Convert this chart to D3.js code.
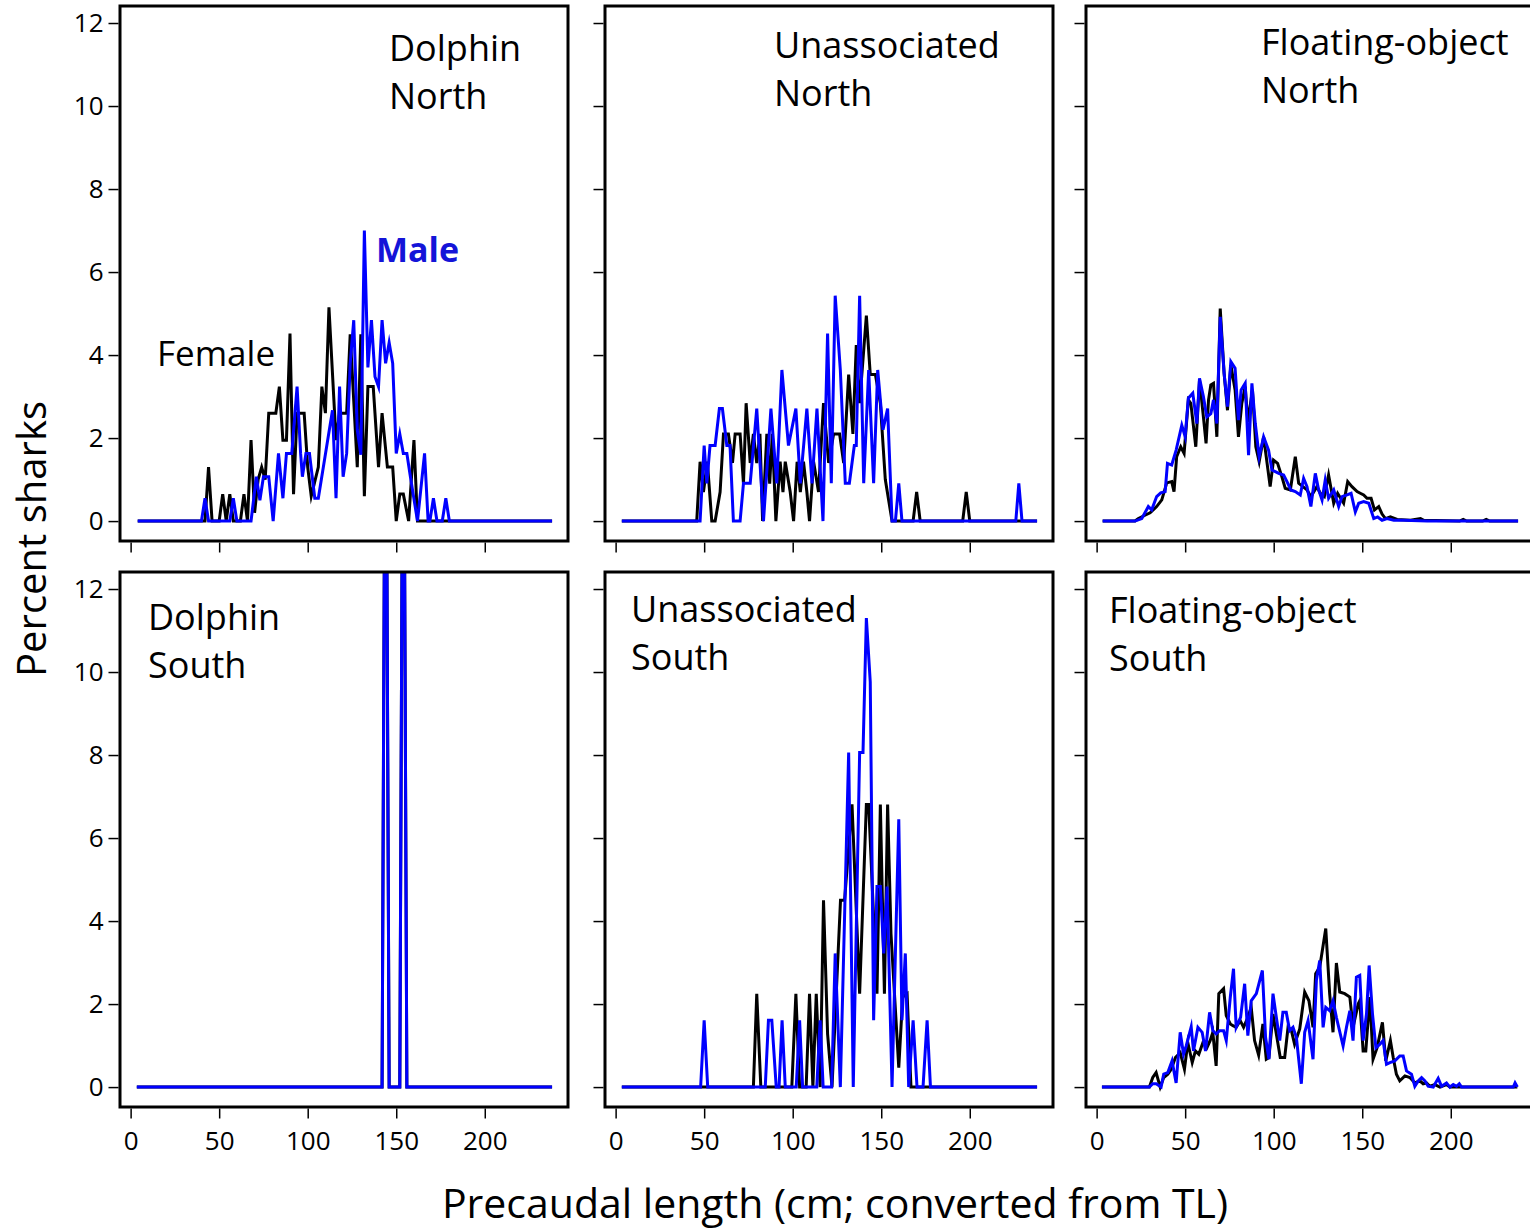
<!DOCTYPE html>
<html><head><meta charset="utf-8">
<script src="https://cdn.jsdelivr.net/npm/d3@7/dist/d3.min.js"></script>
<style>
body{margin:0;background:#fff}
svg{display:block}
text{font-family:"Open Sans","Noto Sans",sans-serif;fill:#000}
</style>
</head><body>
<svg id="chart" width="1530" height="1230"></svg>
<script>
// ---------------- data ----------------
const xTickValues = [0, 50, 100, 150, 200];
const yTickValues = [0, 2, 4, 6, 8, 10, 12];
const seriesNames = ["Female", "Male"];
const panelTitles = [
  ["Dolphin", "North"], ["Unassociated", "North"], ["Floating-object", "North"],
  ["Dolphin", "South"], ["Unassociated", "South"], ["Floating-object", "South"]
];
const xTitle = "Precaudal length (cm; converted from TL)";
const yTitle = "Percent sharks";

// each series: [precaudal length (cm), percent of sharks]
const dolphinNorthFemale = [[4,0],[42,0],[44,1.3],[46,0],[50,0],[52,0.65],[54,0],[56,0.65],[58,0],[62,0],[64,0.65],[66,0],[68,1.95],[70,0.2],[72,1.0],[74,1.3],[76,1.0],[78,2.6],[82,2.6],[84,3.24],[86,1.95],[88,1.95],[90,4.52],[92,0.65],[94,2.6],[98,2.6],[100,1.3],[102,0.6],[106,1.3],[108,3.24],[110,2.6],[112,5.15],[116,1.95],[118,2.6],[122,2.6],[124,4.5],[128,1.3],[130,4.5],[132,0.6],[134,3.24],[137,3.24],[140,1.3],[142,2.6],[145,1.3],[148,1.3],[150,0],[152,0.65],[154,0.65],[157,0],[160,1.95],[162,0],[238,0]];
const dolphinNorthMale = [[4,0],[40,0],[42,0.55],[44,0],[56,0],[58,0.55],[60,0],[68,0],[71,1.07],[73,0.5],[75,1.07],[78,1.07],[80.5,0],[83.5,1.63],[86,0.55],[88,1.63],[91,1.63],[94,3.24],[96,1.63],[97,1.07],[99,1.63],[101,1.63],[104,0.55],[106,0.55],[114,2.67],[116,0.55],[118,3.24],[120,1.07],[122,1.63],[124,3.8],[126,4.84],[128,2.2],[130,1.6],[132,7.0],[134,3.7],[136,4.84],[138,3.48],[140,3.24],[142,4.84],[144,3.8],[146,4.3],[148,3.8],[150,1.63],[152,2.1],[154,1.63],[156,1.63],[158,1.07],[162,0],[166,1.63],[168,0],[169,0],[171,0.55],[173,0],[176,0],[178,0.55],[180,0],[238,0]];

const unassocNorthFemale = [[3.5,0],[45.8,0],[47.7,1.43],[49.6,0.7],[51.8,1.43],[54.3,0],[56.2,0],[59,0.7],[60.9,2.1],[63.7,2.1],[66,1.4],[67.5,2.1],[70.3,2.1],[72.2,0.9],[73.7,2.84],[76,1.4],[77.8,2.1],[79.7,1.4],[81.5,2.1],[83,0],[85.4,2.1],[87,0.9],[88.5,2.1],[90.5,0],[92.9,1.43],[94.5,0.7],[95.8,1.43],[98.6,0.7],[100.5,0],[102.5,1.43],[104.3,0.7],[106.1,1.43],[108,0.7],[109.5,0],[111.8,1.43],[114.6,0.7],[117.4,2.84],[120.3,1.4],[123.1,2.1],[126.5,2.1],[128.8,1.4],[131.6,3.53],[134,2.1],[135.9,4.24],[137.8,2.84],[141.6,4.95],[143.8,3.53],[146.7,3.53],[149.5,2.84],[152.3,1.0],[156.1,0],[168,0],[170,0.7],[172,0],[196,0],[198,0.7],[200,0],[238,0]];
const unassocNorthMale = [[3.5,0],[46,0],[47.7,0],[50,1.82],[51.5,0.91],[53.3,1.82],[56.2,1.82],[58.6,2.71],[60.3,2.71],[62.8,1.82],[64.6,1.82],[66.5,0],[70.3,0],[72.2,0.91],[76,0.91],[79.7,2.71],[83.5,0],[87.7,2.71],[91,0.91],[93.9,3.64],[97.6,1.82],[101.8,2.71],[104.3,0.91],[108,2.71],[110.9,0.91],[113.7,2.71],[117.1,0],[119.7,4.52],[121.8,0.91],[124,5.43],[126.9,3.64],[129.7,0.91],[132,0.91],[134.8,1.82],[135.9,1.82],[137.8,5.43],[140.1,0.91],[142.9,3.64],[145.7,0.91],[148,3.64],[151,2.2],[153.6,2.71],[156.1,0],[158,0],[159.9,0.91],[161.7,0],[226,0],[227.7,0.91],[229.5,0],[238,0]];

const floatNorthFemale = [[3.4,0],[21.7,0],[23.6,0.06],[27.3,0.14],[30.2,0.2],[33.9,0.35],[36.8,0.51],[39.6,0.92],[42.4,0.95],[43.7,0.71],[45.2,1.55],[47.5,1.79],[49.4,1.63],[51.8,2.92],[53.2,2.84],[56,1.79],[58.1,3.4],[60.3,2.51],[61.8,1.87],[63.2,2.92],[64.5,3.28],[66,3.32],[67.9,2.03],[69.8,5.12],[72,3.56],[73.9,2.67],[75.8,3.76],[78.2,3.16],[80.1,2.03],[82,2.84],[83.9,3.24],[85.4,2.39],[88,3.16],[89.9,1.79],[91.8,1.43],[94.3,2.03],[98,0.83],[99.9,1.47],[102.2,1.39],[104.6,1.07],[106.5,0.79],[109.4,0.75],[112.2,1.55],[114.1,0.91],[116.5,0.83],[118.8,0.75],[121,0.59],[124.4,0.83],[126.3,0.67],[128.6,0.59],[131,1.11],[133.9,0.43],[136.1,0.67],[139.5,0.43],[141.8,0.95],[144.2,0.83],[147.1,0.71],[148.9,0.67],[150.8,0.63],[152.7,0.55],[155,0.55],[156.9,0.27],[159.3,0.35],[161.2,0.17],[163.1,0.06],[165.9,0.1],[169.7,0.04],[177.2,0.02],[182.9,0.06],[184.8,0.02],[205,0],[207,0.04],[209,0],[218,0],[220,0.04],[222,0],[238,0]];
const floatNorthMale = [[3.4,0],[21.7,0],[25.5,0.06],[29.2,0.35],[31.1,0.27],[33.9,0.59],[36.2,0.68],[38.7,0.71],[40,1.39],[42.4,1.35],[44.9,1.71],[48.1,2.31],[50,2.03],[51.8,2.96],[54.3,3.08],[56.6,2.35],[58.1,3.44],[60.3,3.0],[62.2,2.51],[64.5,2.59],[66,2.92],[67.9,2.35],[69.8,4.92],[72,3.56],[73.9,2.76],[75.8,3.84],[78.2,3.68],[80.1,2.43],[81.6,3.16],[83.9,3.32],[85.8,1.59],[87.7,3.32],[89.6,2.35],[91.8,1.55],[94.3,2.03],[97.1,1.71],[99,1.23],[100.9,1.19],[102.8,1.15],[105.6,1.11],[107.5,0.95],[109.7,0.75],[112.2,0.71],[115,0.63],[116.9,1.03],[118.8,0.83],[121,0.35],[123.5,1.15],[125.4,0.75],[127.3,0.51],[129.1,0.99],[131,0.55],[133.9,0.75],[136.7,0.35],[138.6,0.59],[141.4,0.63],[143.7,0.67],[146.1,0.22],[148,0.43],[150.8,0.47],[153.7,0.43],[156.5,0.06],[158.7,0.1],[161.2,0.02],[164,0.06],[167.8,0.02],[173.5,0.02],[186.7,0],[238,0]];

const dolphinSouthFemale = [[3.5,0],[142,0],[144,20],[146,0],[152,0],[154,20],[156,0],[238,0]];
const dolphinSouthMale = [[3.5,0],[142,0],[144,20],[146,0],[152,0],[154,20],[156,0],[238,0]];

const unassocSouthFemale = [[3.5,0],[77.8,0],[79.7,2.25],[82,0],[99.5,0],[101.8,2.25],[103.9,0],[107.6,0],[109.5,2.25],[111.4,0],[113.3,2.25],[115.5,0],[117.4,4.5],[119.7,1.28],[122.2,0],[127,4.5],[129.3,4.5],[133.5,6.81],[137.8,2.25],[141.6,6.81],[142.9,6.81],[147.6,2.25],[149.5,6.81],[151.8,2.25],[153.6,6.81],[155.5,3.7],[159.9,0.47],[162.1,2.17],[164.6,2.25],[166.8,0],[238,0]];
const unassocSouthMale = [[3.5,0],[48,0],[50,1.61],[52,0],[84.5,0],[86.3,1.61],[88.2,1.61],[90.7,0],[92.3,0],[94,1.61],[95.8,0],[102,0],[103.9,1.61],[105.6,0],[113.6,0],[115.5,1.61],[117.2,0],[122,0],[124,3.22],[126.9,0],[131.6,8.06],[134.2,0],[137.8,8.06],[139.7,8.06],[141.6,11.3],[143.8,9.76],[145.7,1.61],[147.6,4.83],[149.5,4.83],[151.4,3.22],[153.3,4.83],[156.1,0],[159.9,6.45],[161.7,1.61],[163.6,3.22],[165.5,0],[168,1.61],[170.2,0],[173.6,0],[175.9,1.61],[177.8,0],[238,0]];

const floatSouthFemale = [[3,0],[29.8,0],[31.7,0.23],[33.6,0.35],[35.9,0],[37.9,0.23],[40.2,0.31],[42.1,0.43],[44.5,0.71],[47.2,0.83],[49.6,0.43],[51.5,1.07],[54,0.59],[55.8,0.87],[57.7,0.79],[60,1.07],[62.3,0.95],[64.1,1.12],[65.6,1.32],[67.5,0.51],[69,2.25],[71.7,2.37],[73.2,1.72],[75.5,1.52],[77,1.48],[78.8,1.44],[81.1,1.6],[83,1.44],[85.4,1.68],[87.3,1.92],[89.2,1.12],[91.5,0.77],[93.9,1.52],[95.8,0.67],[97.3,0.71],[99.6,1.76],[101.8,1.2],[103.7,0.71],[106.2,0.71],[108.1,1.44],[110,1.36],[111.8,1.03],[114.7,1.4],[117.5,2.29],[119.9,2.08],[122.2,1.44],[123.7,2.73],[126,2.89],[129.4,3.82],[131.6,2.25],[133.5,1.32],[135.4,2.99],[137.3,2.29],[140.1,2.25],[143,2.17],[144.8,1.44],[147.7,2.0],[148.6,2.08],[150.5,0.87],[152,0.87],[154.3,2.17],[156.1,0.67],[158.4,0.95],[161.4,1.56],[163.3,0.63],[165.9,1.12],[167.5,0.71],[169.3,0.31],[171.2,0.15],[174.1,0.27],[176.9,0.23],[179.7,0.1],[182.5,0.15],[184.4,0.08],[186.3,0.1],[188.2,0.02],[191,0.06],[193.9,0],[197.6,0.06],[199.5,0],[236.8,0],[237.6,0]];
const floatSouthMale = [[3,0],[29.8,0],[31.7,0.08],[33.6,0.08],[36.4,0],[37.9,0.31],[40.2,0.35],[42.6,0.63],[44.9,0.1],[47.2,1.32],[49.1,0.79],[50.6,0.99],[53.4,1.45],[54.7,0.87],[57.2,1.44],[59.6,1.32],[61.5,0.87],[63.8,1.8],[65.6,1.36],[67.5,1.28],[69.4,1.36],[71.7,1.36],[73.2,1.12],[75.5,2.17],[77.3,2.85],[78.8,1.44],[81.3,1.68],[83.6,2.49],[85.4,1.24],[87.3,2.08],[90.2,2.25],[93.6,2.81],[95.4,1.2],[97.3,0.67],[99.6,2.25],[101.5,1.68],[103.4,1.12],[105.2,1.8],[107.1,1.8],[109,1.36],[110.9,1.44],[112.8,1.2],[115.6,0.08],[117.5,1.32],[119.4,1.6],[122.2,0.67],[124.1,2.57],[126,3.05],[127.9,1.44],[129.4,1.92],[131.6,1.84],[133.5,2.08],[135.4,1.68],[139.2,0.99],[141.1,1.44],[143,1.84],[144.8,1.12],[146.7,2.65],[148.6,2.69],[150.5,1.12],[152.4,1.76],[153.9,2.93],[155.8,1.76],[157.7,0.95],[159.9,1.03],[161.8,1.12],[163.7,0.55],[165.6,0.59],[168.4,0.63],[171.2,0.75],[173.1,0.75],[175,0.39],[177.8,0.31],[179.7,0.02],[181.6,0.15],[183.5,0.23],[185.4,0.15],[187.2,0.02],[190.1,0],[192.9,0.21],[194.8,0.02],[197.6,0.1],[199.5,0],[201.4,0.06],[203.3,0.02],[204.8,0.08],[206.1,0],[235.3,0],[236.3,0.1],[237.6,0]];

const panelFemale = [dolphinNorthFemale, unassocNorthFemale, floatNorthFemale, dolphinSouthFemale, unassocSouthFemale, floatSouthFemale];
const panelMale = [dolphinNorthMale, unassocNorthMale, floatNorthMale, dolphinSouthMale, unassocSouthMale, floatSouthMale];

// ---------------- layout ----------------
const colLeft = [120, 605, 1086];
const rowTop = [6, 572];
const boxW = 448, boxH = 535;
const titlePos = [[269, 55], [169, 52], [175, 49], [28, 58], [26, 50], [23, 51]]; // offsets within panel
const lineGap = 48;
const colors = {Female: "#000000", Male: "#0000ff"};

const svg = d3.select("#chart");
const x = d3.scaleLinear().domain([-6, 247]).range([0, boxW]);
const y = d3.scaleLinear().domain([-0.48, 12.41]).range([boxH, 0]);
const line = d3.line().x(d => x(d[0])).y(d => y(d[1]));

panelTitles.forEach((t, i) => {
  const row = Math.floor(i / 3), col = i % 3;
  const g = svg.append("g").attr("transform", `translate(${colLeft[col]},${rowTop[row]})`);
  const clipId = "clip" + i;
  g.append("clipPath").attr("id", clipId).append("rect")
    .attr("x", 0).attr("y", 0).attr("width", boxW).attr("height", boxH);

  const data = [panelFemale[i], panelMale[i]];
  data.forEach((s, k) => {
    g.append("path").datum(s)
      .attr("clip-path", `url(#${clipId})`)
      .attr("d", line)
      .attr("fill", "none")
      .attr("stroke", colors[seriesNames[k]])
      .attr("stroke-width", 3)
      .attr("stroke-linejoin", "miter")
      .attr("stroke-miterlimit", 6);
  });

  // box
  g.append("rect").attr("x", 0).attr("y", 0).attr("width", boxW).attr("height", boxH)
    .attr("fill", "none").attr("stroke", "#000").attr("stroke-width", 3);

  // x axis
  const xa = d3.axisBottom(x).tickValues(xTickValues).tickSize(10).tickPadding(13)
    .tickFormat(row === 1 ? d3.format("d") : () => "");
  const gx = g.append("g").attr("transform", `translate(0,${boxH + 1.5})`).call(xa);
  // y axis
  const ya = d3.axisLeft(y).tickValues(yTickValues).tickSize(10).tickPadding(5)
    .tickFormat(col === 0 ? d3.format("d") : () => "");
  const gy = g.append("g").attr("transform", "translate(-1.5,0)").call(ya);
  [gx, gy].forEach(a => {
    a.select(".domain").remove();
    a.selectAll(".tick line").attr("stroke", "#000").attr("stroke-width", 1.5);
    a.selectAll(".tick text").attr("font-size", 26).attr("font-family", '"Open Sans", sans-serif').attr("fill", "#000");
  });

  // panel title
  const [tx, ty] = titlePos[i];
  t.forEach((s, j) => {
    g.append("text").attr("x", tx).attr("y", ty + j * lineGap)
      .attr("font-size", 36).text(s);
  });
});

// series labels in first panel
svg.append("text").attr("x", 157).attr("y", 366).attr("font-size", 35).text(seriesNames[0]);
svg.append("text").attr("x", 376).attr("y", 262).attr("font-size", 34).attr("font-weight", "bold")
  .style("fill", "#1414d8").text(seriesNames[1]);

// axis titles
svg.append("text").attr("x", 835).attr("y", 1218).attr("text-anchor", "middle")
  .attr("font-size", 41).text(xTitle);
svg.append("text").attr("transform", "translate(46,539) rotate(-90)").attr("text-anchor", "middle")
  .attr("font-size", 40).text(yTitle);
</script>
</body></html>
